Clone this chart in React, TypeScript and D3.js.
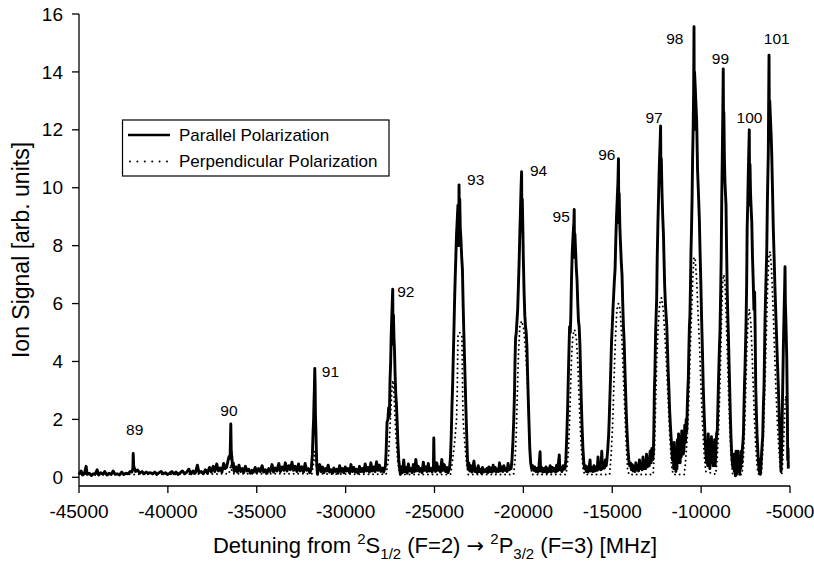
import * as d3 from "d3";

// axis ticks
const xTicks = [-45000, -40000, -35000, -30000, -25000, -20000, -15000, -10000, -5000];
const yTicks = [0, 2, 4, 6, 8, 10, 12, 14, 16];

// parallel polarization trace, [detuning MHz, ion signal]
const parallelSignal: [number, number][] = [
  [-45000, 0.1], [-44880, 0.22], [-44800, 0.08], [-44700, 0.12], [-44600, 0.38], [-44540, 0.1], [-44420, 0.14], [-44300, 0.06],
  [-44200, 0.12], [-44100, 0.1], [-43980, 0.26], [-43900, 0.08], [-43780, 0.16], [-43650, 0.1], [-43550, 0.2], [-43430, 0.08],
  [-43300, 0.14], [-43180, 0.1], [-43080, 0.22], [-42960, 0.1], [-42850, 0.12], [-42720, 0.08], [-42600, 0.18], [-42480, 0.1],
  [-42360, 0.14], [-42240, 0.12], [-42120, 0.2],
  [-42030, 0.18], [-41970, 0.3], [-41950, 0.82], [-41925, 0.4], [-41880, 0.3], [-41820, 0.2],
  [-41700, 0.25], [-41580, 0.14], [-41460, 0.2], [-41340, 0.12], [-41220, 0.18], [-41100, 0.14], [-40980, 0.16], [-40860, 0.12],
  [-40740, 0.18], [-40620, 0.1], [-40500, 0.16], [-40380, 0.2], [-40260, 0.12], [-40140, 0.16], [-40020, 0.1], [-39900, 0.14],
  [-39780, 0.2], [-39660, 0.12], [-39540, 0.18], [-39420, 0.1], [-39300, 0.16], [-39180, 0.22], [-39060, 0.12], [-38940, 0.18],
  [-38820, 0.28], [-38700, 0.12], [-38580, 0.22], [-38460, 0.14], [-38340, 0.42], [-38250, 0.16], [-38130, 0.2], [-38010, 0.12],
  [-37890, 0.26], [-37780, 0.14], [-37660, 0.34], [-37560, 0.18], [-37450, 0.38], [-37360, 0.2], [-37250, 0.46], [-37160, 0.22],
  [-37060, 0.32], [-36960, 0.18], [-36860, 0.48], [-36780, 0.3], [-36700, 0.34],
  [-36620, 0.56], [-36560, 0.72], [-36500, 0.66], [-36460, 1.84], [-36435, 0.9], [-36400, 0.7], [-36360, 0.35], [-36320, 0.5], [-36270, 0.2],
  [-36180, 0.36], [-36090, 0.18], [-36000, 0.42], [-35910, 0.2], [-35820, 0.3], [-35730, 0.16], [-35640, 0.38], [-35540, 0.22],
  [-35450, 0.28], [-35360, 0.14], [-35270, 0.24], [-35180, 0.18], [-35090, 0.34], [-35000, 0.16], [-34900, 0.3], [-34800, 0.2],
  [-34700, 0.4], [-34610, 0.18], [-34520, 0.26], [-34420, 0.14], [-34330, 0.3], [-34240, 0.2], [-34140, 0.44], [-34050, 0.18],
  [-33960, 0.32], [-33860, 0.22], [-33760, 0.48], [-33670, 0.2], [-33580, 0.36], [-33480, 0.24], [-33390, 0.5], [-33300, 0.22],
  [-33200, 0.4], [-33110, 0.26], [-33020, 0.52], [-32930, 0.24], [-32840, 0.38], [-32740, 0.2], [-32650, 0.46], [-32560, 0.22],
  [-32460, 0.36], [-32370, 0.18], [-32280, 0.48], [-32190, 0.24], [-32100, 0.3], [-32010, 0.16],
  [-31930, 0.3], [-31870, 0.8], [-31830, 1.6], [-31800, 2.0], [-31780, 2.6], [-31760, 3.0], [-31735, 3.76], [-31715, 3.2],
  [-31700, 2.2], [-31680, 1.8], [-31650, 1.0], [-31620, 0.4], [-31580, 0.1], [-31540, 0.3],
  [-31460, 0.44], [-31380, 0.2], [-31300, 0.36], [-31220, 0.16], [-31140, 0.3], [-31060, 0.22], [-30980, 0.42], [-30900, 0.18],
  [-30820, 0.26], [-30740, 0.14], [-30660, 0.32], [-30580, 0.2], [-30500, 0.28], [-30420, 0.14], [-30340, 0.4], [-30260, 0.2],
  [-30180, 0.3], [-30100, 0.16], [-30020, 0.36], [-29940, 0.22], [-29860, 0.3], [-29780, 0.16], [-29700, 0.44], [-29620, 0.2],
  [-29540, 0.34], [-29460, 0.18], [-29380, 0.28], [-29300, 0.14], [-29220, 0.38], [-29140, 0.2], [-29060, 0.3], [-28980, 0.18],
  [-28900, 0.46], [-28820, 0.22], [-28740, 0.34], [-28660, 0.18], [-28580, 0.5], [-28500, 0.22], [-28420, 0.36], [-28340, 0.2],
  [-28260, 0.54], [-28180, 0.24], [-28100, 0.42], [-28020, 0.2], [-27940, 0.32], [-27860, 0.18],
  [-27760, 0.4], [-27720, 0.9], [-27670, 1.9], [-27620, 2.0], [-27580, 2.4], [-27540, 2.1], [-27500, 3.4], [-27470, 3.9],
  [-27440, 4.8], [-27400, 5.6], [-27350, 6.5], [-27330, 4.6], [-27310, 5.6], [-27280, 4.8], [-27250, 4.4], [-27220, 3.6],
  [-27180, 2.9], [-27140, 2.5], [-27100, 1.9], [-27060, 1.2], [-27010, 0.6], [-26960, 0.3], [-26920, 0.1],
  [-26870, 0.36], [-26800, 0.16], [-26730, 0.6], [-26680, 0.2], [-26610, 0.34], [-26540, 0.14], [-26470, 0.46], [-26400, 0.22],
  [-26330, 0.3], [-26260, 0.16], [-26190, 0.44], [-26120, 0.2], [-26050, 0.62], [-25980, 0.22], [-25910, 0.38], [-25840, 0.2],
  [-25770, 0.3], [-25700, 0.16], [-25630, 0.52], [-25560, 0.24], [-25490, 0.36], [-25420, 0.2], [-25350, 0.48], [-25280, 0.22],
  [-25210, 0.3], [-25140, 0.18], [-25060, 0.4], [-25040, 1.36], [-25010, 0.3], [-24940, 0.2], [-24870, 0.5], [-24800, 0.24],
  [-24730, 0.36], [-24660, 0.18], [-24590, 0.62], [-24520, 0.24], [-24450, 0.44], [-24380, 0.2], [-24310, 0.34], [-24240, 0.16],
  [-24160, 0.3], [-24100, 0.7], [-24060, 1.4], [-24020, 2.4], [-23980, 3.2], [-23945, 4.1], [-23910, 5.0], [-23870, 6.1],
  [-23830, 7.0], [-23800, 7.6], [-23760, 8.4], [-23720, 8.9], [-23680, 9.4], [-23640, 8.0], [-23620, 10.1], [-23600, 9.0],
  [-23580, 9.6], [-23550, 8.6], [-23510, 8.2], [-23470, 7.6], [-23430, 7.2], [-23390, 6.0], [-23350, 5.0], [-23310, 4.1],
  [-23270, 3.2], [-23230, 2.3], [-23190, 1.5], [-23150, 0.7], [-23110, 0.3],
  [-23070, 0.5], [-23020, 0.22], [-22960, 0.4], [-22900, 0.18], [-22840, 0.34], [-22780, 0.56], [-22720, 0.2], [-22660, 0.3],
  [-22600, 0.16], [-22540, 0.4], [-22480, 0.2], [-22420, 0.28], [-22360, 0.14], [-22300, 0.34], [-22240, 0.18], [-22180, 0.26],
  [-22120, 0.2], [-22060, 0.3], [-22000, 0.16], [-21940, 0.36], [-21880, 0.2], [-21820, 0.32], [-21760, 0.18], [-21700, 0.42],
  [-21640, 0.22], [-21580, 0.34], [-21520, 0.18], [-21460, 0.28], [-21400, 0.2], [-21340, 0.5], [-21280, 0.22], [-21220, 0.36],
  [-21160, 0.2], [-21100, 0.4], [-21040, 0.24], [-20980, 0.3], [-20920, 0.2], [-20860, 0.48], [-20800, 0.26], [-20740, 0.34],
  [-20690, 0.3], [-20640, 0.6], [-20590, 1.2], [-20540, 2.0], [-20500, 2.9], [-20470, 4.0], [-20440, 4.8], [-20400, 5.0],
  [-20360, 5.4], [-20320, 5.8], [-20280, 6.6], [-20240, 7.4], [-20200, 8.4], [-20160, 9.3], [-20130, 10.0], [-20100, 10.55],
  [-20080, 8.5], [-20060, 9.6], [-20030, 8.6], [-20000, 7.5], [-19960, 6.4], [-19920, 5.6], [-19880, 5.2], [-19840, 5.0],
  [-19800, 4.5], [-19760, 3.5], [-19720, 2.6], [-19680, 1.8], [-19640, 1.0], [-19590, 0.5], [-19540, 0.3],
  [-19480, 0.4], [-19420, 0.24], [-19360, 0.36], [-19300, 0.2], [-19240, 0.3], [-19180, 0.18], [-19120, 0.4], [-19060, 0.88],
  [-19030, 0.22], [-18970, 0.34], [-18910, 0.18], [-18850, 0.3], [-18790, 0.2], [-18730, 0.36], [-18670, 0.16], [-18610, 0.3],
  [-18550, 0.2], [-18490, 0.4], [-18430, 0.18], [-18370, 0.34], [-18310, 0.22], [-18250, 0.3], [-18190, 0.18], [-18130, 0.42],
  [-18070, 0.22], [-17980, 0.77], [-17950, 0.26], [-17890, 0.34], [-17830, 0.2], [-17770, 0.4], [-17710, 0.28],
  [-17660, 0.3], [-17610, 0.6], [-17560, 1.4], [-17510, 2.4], [-17470, 3.5], [-17430, 4.5], [-17400, 5.2], [-17360, 5.0],
  [-17330, 5.6], [-17290, 6.9], [-17250, 7.8], [-17200, 8.4], [-17160, 8.8], [-17140, 9.25], [-17120, 7.6], [-17100, 8.4],
  [-17060, 7.8], [-17020, 7.2], [-16980, 6.8], [-16940, 6.0], [-16900, 5.4], [-16860, 5.2], [-16820, 4.6], [-16780, 3.6],
  [-16740, 2.6], [-16700, 1.8], [-16650, 1.0], [-16600, 0.5], [-16560, 0.3],
  [-16510, 0.4], [-16460, 0.2], [-16410, 0.36], [-16360, 0.18], [-16310, 0.3], [-16250, 0.6], [-16210, 0.22], [-16150, 0.34],
  [-16090, 0.2], [-16030, 0.4], [-15970, 0.22], [-15910, 0.36], [-15850, 0.24], [-15800, 0.7], [-15760, 0.28], [-15700, 0.42],
  [-15640, 0.26], [-15590, 0.9], [-15550, 0.3], [-15490, 0.5], [-15440, 0.32], [-15390, 0.6],
  [-15340, 0.4], [-15300, 0.6], [-15250, 1.0], [-15200, 1.5], [-15170, 2.0], [-15120, 3.0], [-15080, 3.8], [-15040, 4.7],
  [-15000, 5.2], [-14960, 5.8], [-14920, 6.3], [-14880, 6.8], [-14840, 7.2], [-14800, 8.2], [-14760, 9.0], [-14720, 9.6],
  [-14680, 10.2], [-14650, 11.0], [-14630, 8.8], [-14610, 9.8], [-14570, 8.6], [-14530, 8.0], [-14490, 7.4], [-14450, 7.0],
  [-14410, 6.0], [-14370, 5.2], [-14330, 4.7], [-14290, 3.8], [-14250, 3.0], [-14210, 2.2], [-14170, 1.6], [-14120, 1.0],
  [-14070, 0.6], [-14020, 0.4],
  [-13970, 0.5], [-13920, 0.26], [-13870, 0.44], [-13820, 0.22], [-13770, 0.38], [-13720, 0.2], [-13670, 0.5], [-13620, 0.26],
  [-13570, 0.4], [-13520, 0.22], [-13470, 0.6], [-13420, 0.3], [-13370, 0.48], [-13320, 0.26], [-13270, 0.7], [-13220, 0.3],
  [-13170, 0.5], [-13120, 0.3], [-13070, 0.8], [-13020, 0.36], [-12970, 0.6], [-12920, 0.4], [-12870, 0.9], [-12820, 0.5],
  [-12770, 1.0], [-12730, 0.6],
  [-12690, 0.8], [-12660, 1.6], [-12630, 3.0], [-12600, 3.6], [-12560, 5.0], [-12530, 5.6], [-12500, 6.2], [-12470, 7.6],
  [-12430, 8.8], [-12390, 9.8], [-12350, 10.8], [-12310, 11.5], [-12280, 12.13], [-12260, 10.2], [-12240, 11.0], [-12200, 9.8],
  [-12160, 9.0], [-12120, 8.4], [-12090, 7.6], [-12050, 6.6], [-12010, 6.0], [-11970, 5.6], [-11930, 5.2], [-11890, 4.4],
  [-11850, 3.6], [-11810, 3.0], [-11770, 2.3], [-11730, 1.8], [-11690, 1.4], [-11650, 1.0], [-11610, 0.6],
  [-11570, 0.9], [-11540, 0.3], [-11510, 1.2], [-11480, 0.4], [-11450, 1.0], [-11420, 0.2], [-11390, 0.8], [-11360, 0.3],
  [-11330, 1.3], [-11300, 0.5], [-11270, 1.5], [-11240, 0.6], [-11210, 1.2], [-11180, 0.5], [-11150, 1.4], [-11120, 0.7],
  [-11090, 1.6], [-11060, 0.9], [-11030, 1.2], [-11000, 0.8],
  [-10960, 1.0], [-10920, 1.8], [-10880, 1.2], [-10840, 2.0], [-10810, 1.6], [-10780, 2.4], [-10750, 3.0], [-10720, 3.4],
  [-10690, 4.4], [-10660, 5.2], [-10630, 5.6], [-10600, 6.6], [-10570, 7.8], [-10540, 8.6], [-10510, 9.6], [-10480, 11.0],
  [-10450, 12.0], [-10420, 13.4], [-10400, 15.56], [-10385, 12.0], [-10370, 14.0], [-10340, 13.6], [-10300, 13.0], [-10250, 12.3],
  [-10200, 10.6], [-10150, 9.8], [-10100, 8.9], [-10060, 7.8], [-10020, 6.8], [-9970, 5.4], [-9920, 4.2], [-9880, 3.1],
  [-9830, 2.2], [-9780, 1.4], [-9730, 0.8], [-9690, 0.5],
  [-9660, 1.2], [-9630, 0.4], [-9600, 1.5], [-9570, 0.6], [-9540, 1.3], [-9510, 0.3], [-9480, 1.1], [-9450, 0.5],
  [-9420, 1.4], [-9390, 0.6], [-9360, 1.2], [-9330, 0.4], [-9300, 0.9], [-9270, 0.6], [-9240, 1.3],
  [-9210, 0.4], [-9170, 0.9], [-9130, 1.5], [-9090, 1.6], [-9050, 2.6], [-9010, 3.6], [-8970, 4.5], [-8940, 5.0],
  [-8900, 6.4], [-8870, 7.6], [-8840, 9.6], [-8810, 11.0], [-8780, 12.6], [-8755, 14.1], [-8735, 11.6], [-8720, 12.6],
  [-8690, 11.0], [-8660, 10.2], [-8630, 9.8], [-8600, 9.4], [-8570, 8.0], [-8530, 6.4], [-8500, 5.6], [-8470, 5.0],
  [-8430, 4.0], [-8390, 3.0], [-8350, 2.0], [-8320, 1.4], [-8280, 0.8], [-8230, 0.4], [-8190, 0.3],
  [-8160, 0.8], [-8130, 0.2], [-8100, 0.6], [-8070, 0.05], [-8040, 0.9], [-8010, 0.1], [-7980, 0.7], [-7950, 0.2],
  [-7920, 0.9], [-7890, 0.3], [-7860, 0.7], [-7830, 0.1], [-7800, 0.6], [-7770, 0.3], [-7740, 0.9],
  [-7710, 0.5], [-7680, 1.0], [-7650, 1.2], [-7620, 1.5], [-7590, 2.4], [-7560, 3.2], [-7530, 3.8], [-7500, 4.6],
  [-7470, 5.4], [-7440, 6.6], [-7410, 8.6], [-7380, 9.4], [-7350, 10.4], [-7320, 11.2], [-7290, 12.0], [-7270, 9.4],
  [-7250, 10.8], [-7220, 9.8], [-7180, 9.2], [-7150, 8.8], [-7110, 7.6], [-7070, 6.8], [-7030, 5.8], [-6990, 6.4],
  [-6960, 5.0], [-6930, 3.2], [-6890, 2.2], [-6850, 1.4], [-6810, 0.9], [-6770, 0.5], [-6730, 0.2],
  [-6700, 0.6], [-6670, 0.1],
  [-6640, 0.3], [-6600, 0.8], [-6560, 1.2], [-6535, 1.4], [-6500, 2.4], [-6462, 3.13], [-6430, 4.4], [-6406, 5.43],
  [-6360, 6.6], [-6310, 7.73], [-6270, 9.6], [-6240, 10.6], [-6220, 11.2], [-6200, 13.0], [-6180, 14.58], [-6160, 12.0],
  [-6140, 13.0], [-6100, 12.4], [-6060, 11.8], [-6029, 11.2], [-5980, 9.8], [-5940, 8.6], [-5899, 7.73], [-5850, 6.6],
  [-5787, 5.43], [-5720, 4.2], [-5657, 3.13], [-5610, 2.2], [-5562, 1.4], [-5530, 0.7], [-5506, 0.2],
  [-5480, 0.8], [-5450, 1.6], [-5410, 3.13], [-5370, 4.6], [-5330, 5.8], [-5300, 6.6], [-5280, 7.27], [-5260, 6.0],
  [-5230, 5.4], [-5185, 4.2], [-5150, 2.4], [-5129, 0.6], [-5110, 1.0], [-5095, 0.3],
];

// perpendicular polarization trace, [detuning MHz, ion signal]
const perpendicularSignal: [number, number][] = [
  [-45000, 0.12], [-42000, 0.1], [-36560, 0.12], [-36500, 0.3], [-36450, 0.45], [-36400, 0.2], [-36300, 0.12],
  [-31900, 0.12], [-31800, 0.5], [-31740, 0.9], [-31690, 0.6], [-31600, 0.12],
  [-27720, 0.1], [-27600, 0.6], [-27520, 1.5], [-27450, 2.4], [-27390, 3.1], [-27340, 3.35], [-27290, 3.0], [-27230, 2.2],
  [-27160, 1.3], [-27060, 0.5], [-26950, 0.1],
  [-24100, 0.1], [-23980, 0.6], [-23870, 1.2], [-23760, 2.0], [-23720, 3.0], [-23700, 4.0], [-23680, 4.9], [-23590, 5.0],
  [-23460, 4.9], [-23440, 4.0], [-23420, 3.0], [-23390, 2.0], [-23300, 1.2], [-23200, 0.5], [-23100, 0.1],
  [-20550, 0.1], [-20470, 0.6], [-20400, 1.5], [-20340, 2.9], [-20280, 4.2], [-20200, 5.2], [-20100, 5.4], [-20000, 5.2],
  [-19900, 4.6], [-19800, 3.6], [-19720, 2.6], [-19660, 1.4], [-19600, 0.5], [-19520, 0.1],
  [-17600, 0.1], [-17500, 0.6], [-17420, 1.6], [-17360, 2.8], [-17300, 4.0], [-17220, 4.9], [-17120, 5.1], [-17020, 4.8],
  [-16940, 4.0], [-16880, 3.0], [-16820, 2.0], [-16740, 1.0], [-16640, 0.3], [-16560, 0.1],
  [-15150, 0.1], [-15060, 0.8], [-14980, 1.8], [-14900, 3.4], [-14820, 4.8], [-14740, 5.8], [-14650, 6.0], [-14560, 5.8],
  [-14460, 4.8], [-14380, 3.6], [-14300, 2.4], [-14220, 1.2], [-14140, 0.3], [-14060, 0.1],
  [-12700, 0.1], [-12620, 1.0], [-12560, 2.6], [-12500, 4.0], [-12420, 5.2], [-12330, 6.0], [-12230, 6.2], [-12130, 5.8],
  [-12030, 4.8], [-11940, 3.8], [-11850, 2.6], [-11760, 1.4], [-11660, 0.4], [-11580, 0.1],
  [-10950, 0.1], [-10880, 0.5], [-10780, 1.4], [-10720, 2.2], [-10660, 3.4], [-10600, 4.6], [-10530, 5.8], [-10460, 7.0],
  [-10400, 7.6], [-10330, 7.5], [-10250, 6.8], [-10170, 5.6], [-10080, 4.4], [-10000, 3.0], [-9920, 1.8], [-9830, 0.8], [-9740, 0.2],
  [-9180, 0.1], [-9100, 0.6], [-9020, 1.6], [-8960, 2.8], [-8900, 4.2], [-8840, 5.8], [-8780, 6.8], [-8720, 7.0],
  [-8650, 6.6], [-8580, 5.4], [-8510, 4.0], [-8440, 2.6], [-8370, 1.4], [-8290, 0.5], [-8220, 0.1],
  [-7700, 0.1], [-7620, 0.7], [-7550, 1.8], [-7490, 3.0], [-7430, 4.4], [-7360, 5.4], [-7290, 5.8], [-7210, 5.4],
  [-7140, 4.4], [-7070, 3.2], [-7000, 2.0], [-6920, 1.0], [-6840, 0.3], [-6760, 0.1],
  [-6620, 0.1], [-6540, 0.8], [-6470, 2.0], [-6400, 3.4], [-6330, 5.0], [-6260, 6.6], [-6190, 7.6], [-6120, 7.8],
  [-6040, 7.2], [-5960, 6.0], [-5880, 4.6], [-5800, 3.2], [-5720, 2.0], [-5630, 1.0], [-5540, 0.3], [-5480, 0.1],
  [-5440, 0.2], [-5370, 1.0], [-5300, 2.2], [-5240, 2.8], [-5180, 2.4], [-5130, 1.4], [-5090, 0.6],
];

// peak numbers and where their labels sit (MHz, signal)
const peakNumbers = ["89", "90", "91", "92", "93", "94", "95", "96", "97", "98", "99", "100", "101"];
const peakLabelMHz = [-41867, -36564, -30856, -26610, -22684, -19146, -17875, -15305, -12645, -11481, -8911, -7280, -5744];
const peakLabelSignal = [1.46, 2.12, 3.47, 6.24, 10.09, 10.41, 8.83, 10.96, 12.22, 14.95, 14.27, 12.22, 14.95];

const legendLabels = ["Parallel Polarization", "Perpendicular Polarization"];

const font = "'Liberation Sans', Arial, Helvetica, sans-serif";

export default function App() {
  const width = 814;
  const height = 565;
  const axisY = 486;

  const x = d3.scaleLinear().domain([-45000, -5000]).range([79, 790]);
  const y = d3.scaleLinear().domain([0, 16]).range([477.3, 14]);

  const line = d3
    .line<[number, number]>()
    .x((d) => x(d[0]))
    .y((d) => y(d[1]));

  return (
    <svg
      width={width}
      height={height}
      style={{ position: "absolute", left: 0, top: 0, background: "#fff" }}
      fontFamily={font}
    >
      {/* traces */}
      <path d={line(parallelSignal) || ""} fill="none" stroke="#000" strokeWidth={2.9} strokeLinejoin="round" />
      <path
        d={line(perpendicularSignal) || ""}
        fill="none"
        stroke="#000"
        strokeWidth={2}
        strokeLinecap="round"
        strokeDasharray="0 4.6"
      />

      {/* y axis */}
      <line x1={x(-45000)} x2={x(-45000)} y1={y(16)} y2={axisY} stroke="#000" strokeWidth={1.3} />
      {yTicks.map((t) => (
        <g key={"y" + t}>
          <line x1={x(-45000) - 7} x2={x(-45000)} y1={y(t)} y2={y(t)} stroke="#000" strokeWidth={1.3} />
          <text x={63} y={y(t)} dy="0.35em" textAnchor="end" fontSize={19}>
            {t}
          </text>
        </g>
      ))}

      {/* x axis */}
      <line x1={x(-45000)} x2={x(-5000)} y1={axisY} y2={axisY} stroke="#000" strokeWidth={1.3} />
      {xTicks.map((t) => (
        <g key={"x" + t}>
          <line x1={x(t)} x2={x(t)} y1={axisY} y2={axisY + 7} stroke="#000" strokeWidth={1.3} />
          <text x={x(t)} y={518} textAnchor="middle" fontSize={19}>
            {t}
          </text>
        </g>
      ))}

      {/* axis titles */}
      <text x={435} y={553} textAnchor="middle" fontSize={22}>
        Detuning from <tspan fontSize={15} dy={-9}>2</tspan>
        <tspan dy={9}>S</tspan>
        <tspan fontSize={15} dy={6}>1/2</tspan>
        <tspan dy={-6}> (F=2) </tspan>
        <tspan fontFamily="'DejaVu Sans', sans-serif" fontSize={21}>→</tspan>
        <tspan> </tspan>
        <tspan fontSize={15} dy={-9}>2</tspan>
        <tspan dy={9}>P</tspan>
        <tspan fontSize={15} dy={6}>3/2</tspan>
        <tspan dy={-6}> (F=3) [MHz]</tspan>
      </text>
      <text transform={`translate(29,${(y(16) + axisY) / 2}) rotate(-90)`} textAnchor="middle" fontSize={23}>
        Ion Signal [arb. units]
      </text>

      {/* peak numbers */}
      {peakNumbers.map((n, i) => (
        <text key={n} x={x(peakLabelMHz[i])} y={y(peakLabelSignal[i])} textAnchor="middle" fontSize={15.5}>
          {n}
        </text>
      ))}

      {/* legend */}
      <rect x={122.5} y={120} width={266.5} height={56} fill="#fff" stroke="#000" strokeWidth={1.2} />
      <line x1={128} x2={170} y1={135} y2={135} stroke="#000" strokeWidth={2.5} />
      <line
        x1={130}
        x2={170}
        y1={161.5}
        y2={161.5}
        stroke="#000"
        strokeWidth={2}
        strokeLinecap="round"
        strokeDasharray="0 7.4"
      />
      {legendLabels.map((l, i) => (
        <text key={l} x={179} y={135 + i * 26.5} dy="0.35em" fontSize={17}>
          {l}
        </text>
      ))}
    </svg>
  );
}
